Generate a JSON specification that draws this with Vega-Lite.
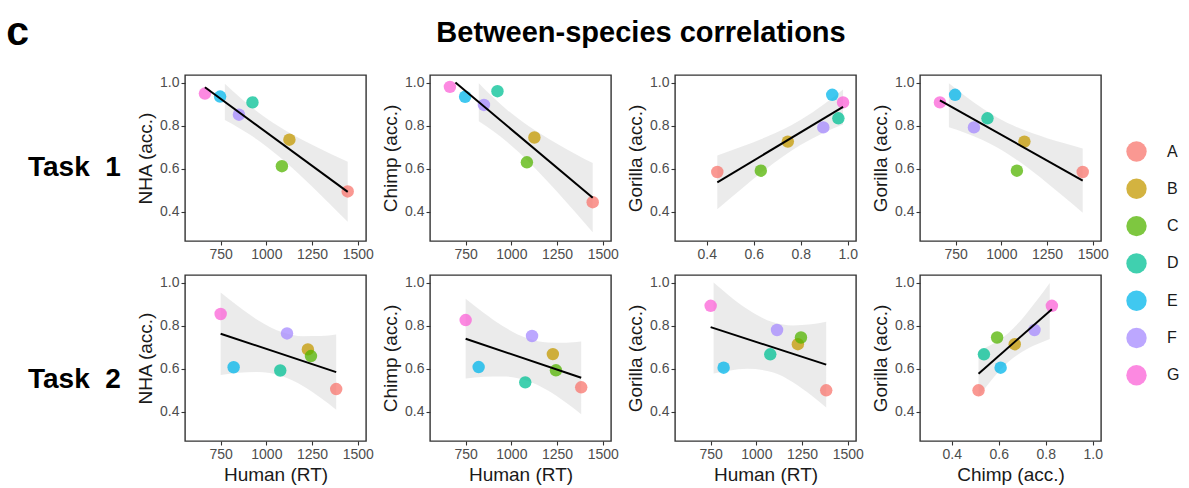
{
  "$schema": "https://vega.github.io/schema/vega-lite/v6.json",
  "padding": {"left": 6, "top": 12, "right": 0, "bottom": 0},
  "config": {
    "font": "Liberation Sans",
    "view": {"stroke": "#333333", "strokeWidth": 1.4},
    "axis": {"grid": false, "domain": false, "ticks": true, "tickSize": 4, "tickColor": "#333333", "tickWidth": 1.1, "labelFont": "Liberation Sans", "labelFontSize": 14, "labelColor": "#4d4d4d", "labelPadding": 2, "labelFlush": false, "titleFont": "Liberation Sans", "titleFontSize": 19, "titleFontWeight": "normal", "titleColor": "#1a1a1a", "titlePadding": 4},
    "title": {"font": "Liberation Sans", "fontWeight": "bold", "color": "#000000"}
  },
  "resolve": {"scale": {"color": "shared"}, "legend": {"color": "shared"}},
  "datasets": {
    "pts": [
      {"task": 1, "cluster": "A", "human": 1445, "nha": 0.495, "chimp": 0.445, "gorilla": 0.585},
      {"task": 1, "cluster": "B", "human": 1126, "nha": 0.735, "chimp": 0.745, "gorilla": 0.726},
      {"task": 1, "cluster": "C", "human": 1085, "nha": 0.612, "chimp": 0.630, "gorilla": 0.591},
      {"task": 1, "cluster": "D", "human": 924, "nha": 0.908, "chimp": 0.960, "gorilla": 0.834},
      {"task": 1, "cluster": "E", "human": 747, "nha": 0.935, "chimp": 0.934, "gorilla": 0.943},
      {"task": 1, "cluster": "F", "human": 850, "nha": 0.851, "chimp": 0.896, "gorilla": 0.792},
      {"task": 1, "cluster": "G", "human": 664, "nha": 0.949, "chimp": 0.980, "gorilla": 0.908},
      {"task": 2, "cluster": "A", "human": 1382, "nha": 0.506, "chimp": 0.514, "gorilla": 0.500},
      {"task": 2, "cluster": "B", "human": 1227, "nha": 0.690, "chimp": 0.668, "gorilla": 0.714},
      {"task": 2, "cluster": "C", "human": 1244, "nha": 0.659, "chimp": 0.593, "gorilla": 0.745},
      {"task": 2, "cluster": "D", "human": 1076, "nha": 0.592, "chimp": 0.537, "gorilla": 0.667},
      {"task": 2, "cluster": "E", "human": 821, "nha": 0.607, "chimp": 0.608, "gorilla": 0.605},
      {"task": 2, "cluster": "F", "human": 1113, "nha": 0.764, "chimp": 0.752, "gorilla": 0.780},
      {"task": 2, "cluster": "G", "human": 750, "nha": 0.854, "chimp": 0.826, "gorilla": 0.892}
    ],
    "bands": [
      {"panel": "t1nha", "x": 773, "lo": 0.8262, "hi": 0.9948},
      {"panel": "t1nha", "x": 850, "lo": 0.7897, "hi": 0.9357},
      {"panel": "t1nha", "x": 900, "lo": 0.7637, "hi": 0.8995},
      {"panel": "t1nha", "x": 977, "lo": 0.7188, "hi": 0.8484},
      {"panel": "t1nha", "x": 1100, "lo": 0.6349, "hi": 0.7799},
      {"panel": "t1nha", "x": 1250, "lo": 0.5175, "hi": 0.7111},
      {"panel": "t1nha", "x": 1350, "lo": 0.4344, "hi": 0.6700},
      {"panel": "t1nha", "x": 1445, "lo": 0.3538, "hi": 0.6326},
      {"panel": "t1chimp", "x": 822, "lo": 0.8208, "hi": 0.9972},
      {"panel": "t1chimp", "x": 900, "lo": 0.7754, "hi": 0.9318},
      {"panel": "t1chimp", "x": 977, "lo": 0.7240, "hi": 0.8732},
      {"panel": "t1chimp", "x": 1100, "lo": 0.6280, "hi": 0.7948},
      {"panel": "t1chimp", "x": 1250, "lo": 0.4933, "hi": 0.7161},
      {"panel": "t1chimp", "x": 1350, "lo": 0.3981, "hi": 0.6691},
      {"panel": "t1chimp", "x": 1445, "lo": 0.3058, "hi": 0.6264},
      {"panel": "t1gc", "x": 0.445, "lo": 0.4125, "hi": 0.6621},
      {"panel": "t1gc", "x": 0.55, "lo": 0.5089, "hi": 0.7029},
      {"panel": "t1gc", "x": 0.65, "lo": 0.5969, "hi": 0.7457},
      {"panel": "t1gc", "x": 0.7986, "lo": 0.7102, "hi": 0.8266},
      {"panel": "t1gc", "x": 0.90, "lo": 0.7685, "hi": 0.9009},
      {"panel": "t1gc", "x": 0.98, "lo": 0.8057, "hi": 0.9681},
      {"panel": "t1gor", "x": 713, "lo": 0.7924, "hi": 0.9962},
      {"panel": "t1gor", "x": 800, "lo": 0.7674, "hi": 0.9386},
      {"panel": "t1gor", "x": 900, "lo": 0.7325, "hi": 0.8781},
      {"panel": "t1gor", "x": 977, "lo": 0.6990, "hi": 0.8378},
      {"panel": "t1gor", "x": 1100, "lo": 0.6323, "hi": 0.7875},
      {"panel": "t1gor", "x": 1250, "lo": 0.5346, "hi": 0.7420},
      {"panel": "t1gor", "x": 1350, "lo": 0.4645, "hi": 0.7167},
      {"panel": "t1gor", "x": 1445, "lo": 0.3960, "hi": 0.6946},
      {"panel": "t2nha", "x": 750, "lo": 0.5714, "hi": 0.9538},
      {"panel": "t2nha", "x": 850, "lo": 0.5816, "hi": 0.8872},
      {"panel": "t2nha", "x": 950, "lo": 0.5848, "hi": 0.8276},
      {"panel": "t2nha", "x": 1088, "lo": 0.5655, "hi": 0.7693},
      {"panel": "t2nha", "x": 1200, "lo": 0.5204, "hi": 0.7510},
      {"panel": "t2nha", "x": 1300, "lo": 0.4635, "hi": 0.7515},
      {"panel": "t2nha", "x": 1382, "lo": 0.4103, "hi": 0.7585},
      {"panel": "t2chimp", "x": 750, "lo": 0.5544, "hi": 0.9246},
      {"panel": "t2chimp", "x": 850, "lo": 0.5629, "hi": 0.8587},
      {"panel": "t2chimp", "x": 950, "lo": 0.5646, "hi": 0.7996},
      {"panel": "t2chimp", "x": 1088, "lo": 0.5439, "hi": 0.7413},
      {"panel": "t2chimp", "x": 1200, "lo": 0.4987, "hi": 0.7219},
      {"panel": "t2chimp", "x": 1300, "lo": 0.4421, "hi": 0.7211},
      {"panel": "t2chimp", "x": 1382, "lo": 0.3896, "hi": 0.7266},
      {"panel": "t2gor", "x": 766, "lo": 0.5778, "hi": 0.9998},
      {"panel": "t2gor", "x": 850, "lo": 0.5912, "hi": 0.9402},
      {"panel": "t2gor", "x": 950, "lo": 0.5996, "hi": 0.8768},
      {"panel": "t2gor", "x": 1088, "lo": 0.5841, "hi": 0.8167},
      {"panel": "t2gor", "x": 1200, "lo": 0.5379, "hi": 0.8011},
      {"panel": "t2gor", "x": 1300, "lo": 0.4775, "hi": 0.8065},
      {"panel": "t2gor", "x": 1382, "lo": 0.4207, "hi": 0.8181},
      {"panel": "t2gc", "x": 0.514, "lo": 0.4707, "hi": 0.6829},
      {"panel": "t2gc", "x": 0.56, "lo": 0.5356, "hi": 0.7064},
      {"panel": "t2gc", "x": 0.6426, "lo": 0.6332, "hi": 0.7676},
      {"panel": "t2gc", "x": 0.70, "lo": 0.6791, "hi": 0.8321},
      {"panel": "t2gc", "x": 0.76, "lo": 0.7125, "hi": 0.9139},
      {"panel": "t2gc", "x": 0.817, "lo": 0.7380, "hi": 0.9980}
    ],
    "fits": [
      {"panel": "t1nha", "x": 664, "y": 0.978},
      {"panel": "t1nha", "x": 1445, "y": 0.4931},
      {"panel": "t1chimp", "x": 694, "y": 1.0},
      {"panel": "t1chimp", "x": 1445, "y": 0.4661},
      {"panel": "t1gc", "x": 0.445, "y": 0.5373},
      {"panel": "t1gc", "x": 0.98, "y": 0.8869},
      {"panel": "t1gor", "x": 664, "y": 0.9178},
      {"panel": "t1gor", "x": 1445, "y": 0.5453},
      {"panel": "t2nha", "x": 750, "y": 0.7626},
      {"panel": "t2nha", "x": 1382, "y": 0.5844},
      {"panel": "t2chimp", "x": 750, "y": 0.7395},
      {"panel": "t2chimp", "x": 1382, "y": 0.5581},
      {"panel": "t2gor", "x": 750, "y": 0.7932},
      {"panel": "t2gor", "x": 1382, "y": 0.6194},
      {"panel": "t2gc", "x": 0.514, "y": 0.5768},
      {"panel": "t2gc", "x": 0.826, "y": 0.8767}
    ]
  },
  "title": {"text": "c", "orient": "left", "anchor": "end", "angle": 0, "align": "left", "baseline": "top", "fontSize": 41, "offset": -1, "dy": -6},
  "hconcat": [
    {
      "title": {"text": "Between-species correlations", "fontSize": 29, "anchor": "middle", "frame": "group", "offset": 26, "dx": 456},
      "spacing": 12,
      "vconcat": [
        {
          "title": {"text": "Task\u00a0\u00a01", "orient": "left", "angle": 0, "anchor": "middle", "align": "left", "baseline": "middle", "fontSize": 28, "offset": 15},
          "spacing": 64,
          "bounds": "flush",
          "hconcat": [
            {"width": 181, "height": 166, "layer": [
              {"data": {"name": "bands"}, "transform": [{"filter": "datum.panel === 't1nha'"}], "mark": {"type": "area", "color": "#999999", "opacity": 0.2, "interpolate": "monotone"},
               "encoding": {"x": {"field": "x", "type": "quantitative", "title": null, "scale": {"domain": [555, 1545], "nice": false, "zero": false}, "axis": {"values": [750, 1000, 1250, 1500], "format": "d"}},
                            "y": {"field": "lo", "type": "quantitative", "title": "NHA (acc.)", "scale": {"domain": [0.265, 1.035], "nice": false, "zero": false}, "axis": {"values": [0.4, 0.6, 0.8, 1.0], "format": ".1f"}},
                            "y2": {"field": "hi"}}},
              {"data": {"name": "pts"}, "transform": [{"filter": "datum.task === 1"}], "mark": {"type": "circle", "size": 155, "opacity": 0.75},
               "encoding": {"x": {"field": "human", "type": "quantitative", "title": null}, "y": {"field": "nha", "type": "quantitative", "title": "NHA (acc.)"},
                            "color": {"field": "cluster", "type": "nominal", "scale": {"domain": ["A", "B", "C", "D", "E", "F", "G"], "range": ["#F8766D", "#C49A00", "#53B400", "#00C094", "#00B6EB", "#A58AFF", "#FB61D7"]},
                                      "legend": {"title": null, "orient": "none", "legendX": 941, "legendY": 66, "symbolType": "circle", "symbolSize": 415, "symbolOpacity": 0.75, "symbolStrokeWidth": 0, "labelFont": "Liberation Sans", "labelFontSize": 16, "labelColor": "#1a1a1a", "rowPadding": 16.3, "labelOffset": 20}}}},
              {"data": {"name": "fits"}, "transform": [{"filter": "datum.panel === 't1nha'"}], "mark": {"type": "line", "color": "#000000", "strokeWidth": 2},
               "encoding": {"x": {"field": "x", "type": "quantitative", "title": null}, "y": {"field": "y", "type": "quantitative", "title": "NHA (acc.)"}}}
            ]},
            {"width": 181, "height": 166, "layer": [
              {"data": {"name": "bands"}, "transform": [{"filter": "datum.panel === 't1chimp'"}], "mark": {"type": "area", "color": "#999999", "opacity": 0.2, "interpolate": "monotone"},
               "encoding": {"x": {"field": "x", "type": "quantitative", "title": null, "scale": {"domain": [555, 1545], "nice": false, "zero": false}, "axis": {"values": [750, 1000, 1250, 1500], "format": "d"}},
                            "y": {"field": "lo", "type": "quantitative", "title": "Chimp (acc.)", "scale": {"domain": [0.265, 1.035], "nice": false, "zero": false}, "axis": {"values": [0.4, 0.6, 0.8, 1.0], "format": ".1f"}},
                            "y2": {"field": "hi"}}},
              {"data": {"name": "pts"}, "transform": [{"filter": "datum.task === 1"}], "mark": {"type": "circle", "size": 155, "opacity": 0.75},
               "encoding": {"x": {"field": "human", "type": "quantitative", "title": null}, "y": {"field": "chimp", "type": "quantitative", "title": "Chimp (acc.)"},
                            "color": {"field": "cluster", "type": "nominal"}}},
              {"data": {"name": "fits"}, "transform": [{"filter": "datum.panel === 't1chimp'"}], "mark": {"type": "line", "color": "#000000", "strokeWidth": 2},
               "encoding": {"x": {"field": "x", "type": "quantitative", "title": null}, "y": {"field": "y", "type": "quantitative", "title": "Chimp (acc.)"}}}
            ]},
            {"width": 181, "height": 166, "layer": [
              {"data": {"name": "bands"}, "transform": [{"filter": "datum.panel === 't1gc'"}], "mark": {"type": "area", "color": "#999999", "opacity": 0.2, "interpolate": "monotone"},
               "encoding": {"x": {"field": "x", "type": "quantitative", "title": null, "scale": {"domain": [0.265, 1.035], "nice": false, "zero": false}, "axis": {"values": [0.4, 0.6, 0.8, 1.0], "format": ".1f"}},
                            "y": {"field": "lo", "type": "quantitative", "title": "Gorilla (acc.)", "scale": {"domain": [0.265, 1.035], "nice": false, "zero": false}, "axis": {"values": [0.4, 0.6, 0.8, 1.0], "format": ".1f"}},
                            "y2": {"field": "hi"}}},
              {"data": {"name": "pts"}, "transform": [{"filter": "datum.task === 1"}], "mark": {"type": "circle", "size": 155, "opacity": 0.75},
               "encoding": {"x": {"field": "chimp", "type": "quantitative", "title": null}, "y": {"field": "gorilla", "type": "quantitative", "title": "Gorilla (acc.)"},
                            "color": {"field": "cluster", "type": "nominal"}}},
              {"data": {"name": "fits"}, "transform": [{"filter": "datum.panel === 't1gc'"}], "mark": {"type": "line", "color": "#000000", "strokeWidth": 2},
               "encoding": {"x": {"field": "x", "type": "quantitative", "title": null}, "y": {"field": "y", "type": "quantitative", "title": "Gorilla (acc.)"}}}
            ]},
            {"width": 181, "height": 166, "layer": [
              {"data": {"name": "bands"}, "transform": [{"filter": "datum.panel === 't1gor'"}], "mark": {"type": "area", "color": "#999999", "opacity": 0.2, "interpolate": "monotone"},
               "encoding": {"x": {"field": "x", "type": "quantitative", "title": null, "scale": {"domain": [555, 1545], "nice": false, "zero": false}, "axis": {"values": [750, 1000, 1250, 1500], "format": "d"}},
                            "y": {"field": "lo", "type": "quantitative", "title": "Gorilla (acc.)", "scale": {"domain": [0.265, 1.035], "nice": false, "zero": false}, "axis": {"values": [0.4, 0.6, 0.8, 1.0], "format": ".1f"}},
                            "y2": {"field": "hi"}}},
              {"data": {"name": "pts"}, "transform": [{"filter": "datum.task === 1"}], "mark": {"type": "circle", "size": 155, "opacity": 0.75},
               "encoding": {"x": {"field": "human", "type": "quantitative", "title": null}, "y": {"field": "gorilla", "type": "quantitative", "title": "Gorilla (acc.)"},
                            "color": {"field": "cluster", "type": "nominal"}}},
              {"data": {"name": "fits"}, "transform": [{"filter": "datum.panel === 't1gor'"}], "mark": {"type": "line", "color": "#000000", "strokeWidth": 2},
               "encoding": {"x": {"field": "x", "type": "quantitative", "title": null}, "y": {"field": "y", "type": "quantitative", "title": "Gorilla (acc.)"}}}
            ]}
          ]
        },
        {
          "title": {"text": "Task\u00a0\u00a02", "orient": "left", "angle": 0, "anchor": "middle", "align": "left", "baseline": "middle", "fontSize": 28, "offset": 15},
          "spacing": 64,
          "bounds": "flush",
          "hconcat": [
            {"width": 181, "height": 166, "layer": [
              {"data": {"name": "bands"}, "transform": [{"filter": "datum.panel === 't2nha'"}], "mark": {"type": "area", "color": "#999999", "opacity": 0.2, "interpolate": "monotone"},
               "encoding": {"x": {"field": "x", "type": "quantitative", "title": "Human (RT)", "scale": {"domain": [555, 1545], "nice": false, "zero": false}, "axis": {"values": [750, 1000, 1250, 1500], "format": "d"}},
                            "y": {"field": "lo", "type": "quantitative", "title": "NHA (acc.)", "scale": {"domain": [0.265, 1.035], "nice": false, "zero": false}, "axis": {"values": [0.4, 0.6, 0.8, 1.0], "format": ".1f"}},
                            "y2": {"field": "hi"}}},
              {"data": {"name": "pts"}, "transform": [{"filter": "datum.task === 2"}], "mark": {"type": "circle", "size": 155, "opacity": 0.75},
               "encoding": {"x": {"field": "human", "type": "quantitative", "title": "Human (RT)"}, "y": {"field": "nha", "type": "quantitative", "title": "NHA (acc.)"},
                            "color": {"field": "cluster", "type": "nominal"}}},
              {"data": {"name": "fits"}, "transform": [{"filter": "datum.panel === 't2nha'"}], "mark": {"type": "line", "color": "#000000", "strokeWidth": 2},
               "encoding": {"x": {"field": "x", "type": "quantitative", "title": "Human (RT)"}, "y": {"field": "y", "type": "quantitative", "title": "NHA (acc.)"}}}
            ]},
            {"width": 181, "height": 166, "layer": [
              {"data": {"name": "bands"}, "transform": [{"filter": "datum.panel === 't2chimp'"}], "mark": {"type": "area", "color": "#999999", "opacity": 0.2, "interpolate": "monotone"},
               "encoding": {"x": {"field": "x", "type": "quantitative", "title": "Human (RT)", "scale": {"domain": [555, 1545], "nice": false, "zero": false}, "axis": {"values": [750, 1000, 1250, 1500], "format": "d"}},
                            "y": {"field": "lo", "type": "quantitative", "title": "Chimp (acc.)", "scale": {"domain": [0.265, 1.035], "nice": false, "zero": false}, "axis": {"values": [0.4, 0.6, 0.8, 1.0], "format": ".1f"}},
                            "y2": {"field": "hi"}}},
              {"data": {"name": "pts"}, "transform": [{"filter": "datum.task === 2"}], "mark": {"type": "circle", "size": 155, "opacity": 0.75},
               "encoding": {"x": {"field": "human", "type": "quantitative", "title": "Human (RT)"}, "y": {"field": "chimp", "type": "quantitative", "title": "Chimp (acc.)"},
                            "color": {"field": "cluster", "type": "nominal"}}},
              {"data": {"name": "fits"}, "transform": [{"filter": "datum.panel === 't2chimp'"}], "mark": {"type": "line", "color": "#000000", "strokeWidth": 2},
               "encoding": {"x": {"field": "x", "type": "quantitative", "title": "Human (RT)"}, "y": {"field": "y", "type": "quantitative", "title": "Chimp (acc.)"}}}
            ]},
            {"width": 181, "height": 166, "layer": [
              {"data": {"name": "bands"}, "transform": [{"filter": "datum.panel === 't2gor'"}], "mark": {"type": "area", "color": "#999999", "opacity": 0.2, "interpolate": "monotone"},
               "encoding": {"x": {"field": "x", "type": "quantitative", "title": "Human (RT)", "scale": {"domain": [555, 1545], "nice": false, "zero": false}, "axis": {"values": [750, 1000, 1250, 1500], "format": "d"}},
                            "y": {"field": "lo", "type": "quantitative", "title": "Gorilla (acc.)", "scale": {"domain": [0.265, 1.035], "nice": false, "zero": false}, "axis": {"values": [0.4, 0.6, 0.8, 1.0], "format": ".1f"}},
                            "y2": {"field": "hi"}}},
              {"data": {"name": "pts"}, "transform": [{"filter": "datum.task === 2"}], "mark": {"type": "circle", "size": 155, "opacity": 0.75},
               "encoding": {"x": {"field": "human", "type": "quantitative", "title": "Human (RT)"}, "y": {"field": "gorilla", "type": "quantitative", "title": "Gorilla (acc.)"},
                            "color": {"field": "cluster", "type": "nominal"}}},
              {"data": {"name": "fits"}, "transform": [{"filter": "datum.panel === 't2gor'"}], "mark": {"type": "line", "color": "#000000", "strokeWidth": 2},
               "encoding": {"x": {"field": "x", "type": "quantitative", "title": "Human (RT)"}, "y": {"field": "y", "type": "quantitative", "title": "Gorilla (acc.)"}}}
            ]},
            {"width": 181, "height": 166, "layer": [
              {"data": {"name": "bands"}, "transform": [{"filter": "datum.panel === 't2gc'"}], "mark": {"type": "area", "color": "#999999", "opacity": 0.2, "interpolate": "monotone"},
               "encoding": {"x": {"field": "x", "type": "quantitative", "title": "Chimp (acc.)", "scale": {"domain": [0.265, 1.035], "nice": false, "zero": false}, "axis": {"values": [0.4, 0.6, 0.8, 1.0], "format": ".1f"}},
                            "y": {"field": "lo", "type": "quantitative", "title": "Gorilla (acc.)", "scale": {"domain": [0.265, 1.035], "nice": false, "zero": false}, "axis": {"values": [0.4, 0.6, 0.8, 1.0], "format": ".1f"}},
                            "y2": {"field": "hi"}}},
              {"data": {"name": "pts"}, "transform": [{"filter": "datum.task === 2"}], "mark": {"type": "circle", "size": 155, "opacity": 0.75},
               "encoding": {"x": {"field": "chimp", "type": "quantitative", "title": "Chimp (acc.)"}, "y": {"field": "gorilla", "type": "quantitative", "title": "Gorilla (acc.)"},
                            "color": {"field": "cluster", "type": "nominal"}}},
              {"data": {"name": "fits"}, "transform": [{"filter": "datum.panel === 't2gc'"}], "mark": {"type": "line", "color": "#000000", "strokeWidth": 2},
               "encoding": {"x": {"field": "x", "type": "quantitative", "title": "Chimp (acc.)"}, "y": {"field": "y", "type": "quantitative", "title": "Gorilla (acc.)"}}}
            ]}
          ]
        }
      ]
    }
  ]
}
